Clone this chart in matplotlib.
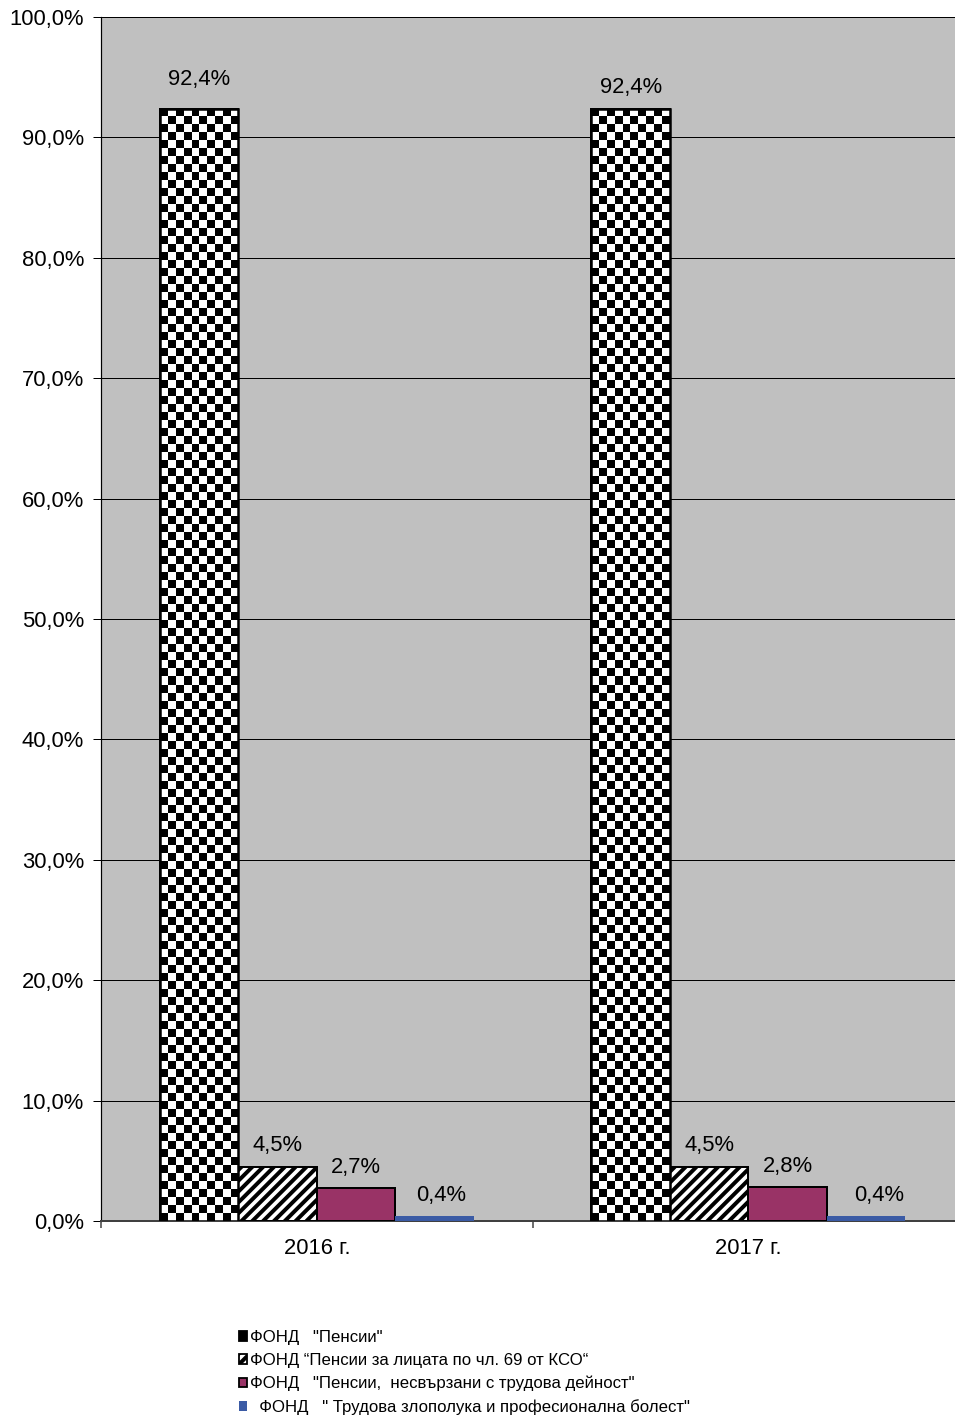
import numpy as np
import matplotlib
matplotlib.use('Agg')
import matplotlib.pyplot as plt
from matplotlib.patches import Patch

# ---- data ----
years = ['2016 г.', '2017 г.']
fund_names = [
    'ФОНД   "Пенсии"',
    'ФОНД “Пенсии за лицата по чл. 69 от КСО“',
    'ФОНД   "Пенсии,  несвързани с трудова дейност"',
    '  ФОНД   " Трудова злополука и професионална болест"',
]
pensii = [92.4, 92.4]
pensii_ch69 = [4.5, 4.5]
nesvarzani = [2.7, 2.8]
trudova = [0.4, 0.4]
series = [pensii, pensii_ch69, nesvarzani, trudova]
yticks = np.arange(0, 101, 10)

DPI = 130
W, H = 955, 1418
plt.rcParams['font.family'] = ['Liberation Sans', 'DejaVu Sans']
plt.rcParams['hatch.linewidth'] = 2.2
plt.rcParams['hatch.color'] = 'black'


def px(p):
    return p * 72.0 / DPI


FS = px(22)

fig = plt.figure(figsize=(W / DPI, H / DPI), dpi=DPI, facecolor='white')
ax = fig.add_axes([101 / W, 197 / H, 863 / W, 1204 / H])
ax.set_facecolor('#C0C0C0')
ax.set_xlim(-0.5, 1.5)
ax.set_ylim(0, 100)

x = np.arange(len(years))
bw = 0.1817
offsets = np.array([-1.5, -0.5, 0.5, 1.5]) * bw

fc = ['white', 'white', '#993366', '#3B5BA5']
hatches = [None, '////', None, None]
edges = ['black', 'black', 'black', 'none']

for i, vals in enumerate(series):
    bars = ax.bar(x + offsets[i], vals, bw, color=fc[i], hatch=hatches[i],
                  edgecolor=edges[i], linewidth=px(2) if edges[i] != 'none' else 0,
                  zorder=3)
    if i == 0:
        # checkerboard fill clipped to each bar
        for b in bars:
            x0, y0 = b.get_x(), b.get_y()
            x1, y1 = x0 + b.get_width(), y0 + b.get_height()
            p0 = ax.transData.transform((x0, y0))
            p1 = ax.transData.transform((x1, y1))
            nc = max(1, int(round((p1[0] - p0[0]) / 8.0)))
            nr = max(1, int(round((p1[1] - p0[1]) / 8.0)))
            board = (np.add.outer(np.arange(nr), np.arange(nc)) % 2).astype(float)
            im = ax.imshow(board, cmap='gray', extent=(x0, x1, y0, y1),
                           aspect='auto', interpolation='nearest', zorder=3.5,
                           vmin=0, vmax=1)
            im.set_clip_path(b)
        ax.bar(x + offsets[i], vals, bw, fill=False, edgecolor='black',
               linewidth=px(2.5), zorder=4)
    # value labels
    for j, v in enumerate(vals):
        dy = 2.45 if (i == 0 and j == 0) else 1.75
        dx = 0.015 if i == 3 else 0.0
        if i == 3 and j == 1:
            dx = 0.03
        ax.text(x[j] + offsets[i] + dx, v + dy, f'{v:.1f}%'.replace('.', ','),
                ha='center', va='center', fontsize=FS, color='black', zorder=5)

ax.set_xlim(-0.5, 1.5)
ax.set_ylim(0, 100)

ax.set_yticks(yticks)
ax.set_yticklabels([f'{t:.1f}%'.replace('.', ',') for t in yticks], fontsize=FS)
ax.yaxis.grid(True, color='black', linewidth=px(1), zorder=1)
ax.set_axisbelow(True)
ax.tick_params(axis='y', direction='out', length=px(8), width=px(1), pad=px(9))

ax.set_xticks([-0.5, 0.5, 1.5])
ax.set_xticklabels([])
ax.set_xticks(x, minor=True)
ax.set_xticklabels(years, minor=True, fontsize=FS)
ax.tick_params(axis='x', which='major', direction='out', length=px(7), width=px(1.5),
               color='#404040')
ax.tick_params(axis='x', which='minor', length=0, pad=px(17))

for s in ['top', 'right']:
    ax.spines[s].set_visible(False)
ax.spines['left'].set_color('black')
ax.spines['left'].set_linewidth(px(1.2))
ax.spines['bottom'].set_color('#404040')
ax.spines['bottom'].set_linewidth(px(2))

handles = [
    Patch(facecolor='black', edgecolor='black'),
    Patch(facecolor='white', edgecolor='black', hatch='////'),
    Patch(facecolor='#993366', edgecolor='black'),
    Patch(facecolor='#3B5BA5', edgecolor='none'),
]
fig.legend(handles, fund_names, loc='upper left',
           bbox_to_anchor=(239 / W, 1 - 1330 / H), frameon=False,
           fontsize=px(16.8), handlelength=0.5, handleheight=0.5,
           handletextpad=0.15, labelspacing=0.47, borderpad=0, borderaxespad=0)

fig.savefig('out.png', dpi=DPI, facecolor='white')
